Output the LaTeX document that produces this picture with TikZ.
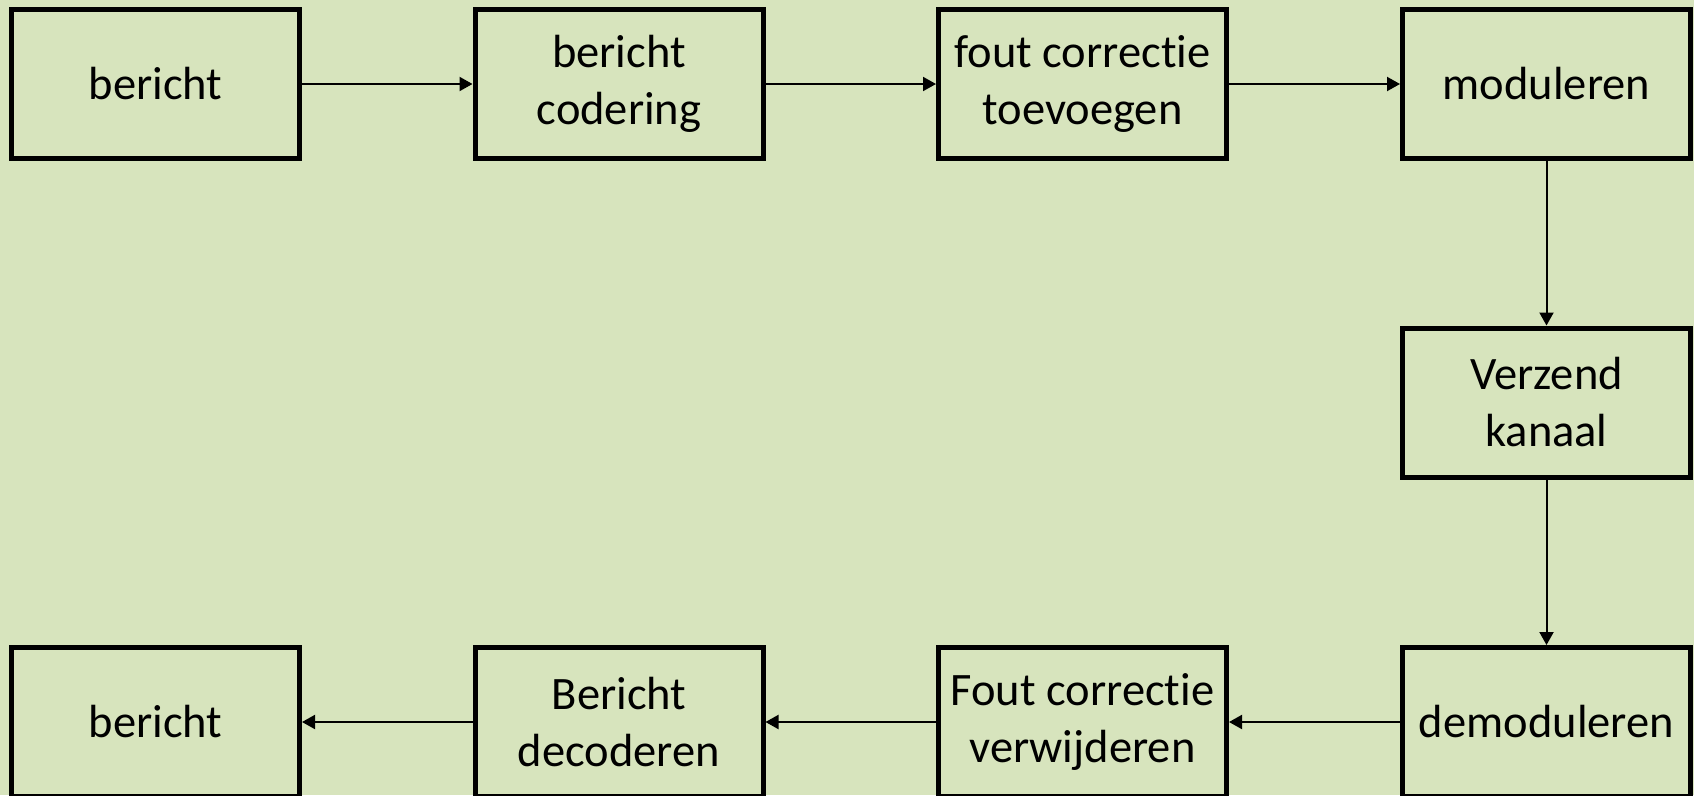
\documentclass[tikz,border=0pt]{standalone}
\usepackage{fontspec}
\setmainfont{Carlito}[Ligatures=NoCommon]
\usetikzlibrary{arrows.meta}
\definecolor{bg}{HTML}{D7E4BD}
\begin{document}
\begin{tikzpicture}[x=1pt,y=-1pt,
  blk/.style={draw=black,line width=5pt,fill=bg,minimum width=288pt,minimum height=149pt,
    inner sep=0pt,align=center,font=\fontsize{46.5}{57}\selectfont,text=black},
  conn/.style={line width=2pt,-{Triangle[length=13pt,width=14pt]}}]
\fill[bg] (0,0) rectangle (1694,795);
\clip (0,0) rectangle (1694,795);
\useasboundingbox (0,0) rectangle (1694,795);
\node[blk] (a1) at (155.5,84) {bericht};
\node[blk] (a2) at (619,84) {bericht\\codering};
\node[blk] (a3) at (1082.5,84) {fout correctie\\toevoegen};
\node[blk] (a4) at (1546.5,84) {moduleren};
\node[blk] (m) at (1546.5,402.5) {Verzend\\kanaal};
\node[blk] (b4) at (1546.5,722) {demoduleren};
\node[blk] (b3) at (1082.5,722) {Fout correctie\\verwijderen};
\node[blk] (b2) at (619,722) {Bericht\\decoderen};
\node[blk] (b1) at (155.5,722) {bericht};
\draw[conn] (a1) -- (a2);
\draw[conn] (a2) -- (a3);
\draw[conn] (a3) -- (a4);
\draw[conn] (a4) -- (m);
\draw[conn] (m) -- (b4);
\draw[conn] (b4) -- (b3);
\draw[conn] (b3) -- (b2);
\draw[conn] (b2) -- (b1);
\end{tikzpicture}
\end{document}
